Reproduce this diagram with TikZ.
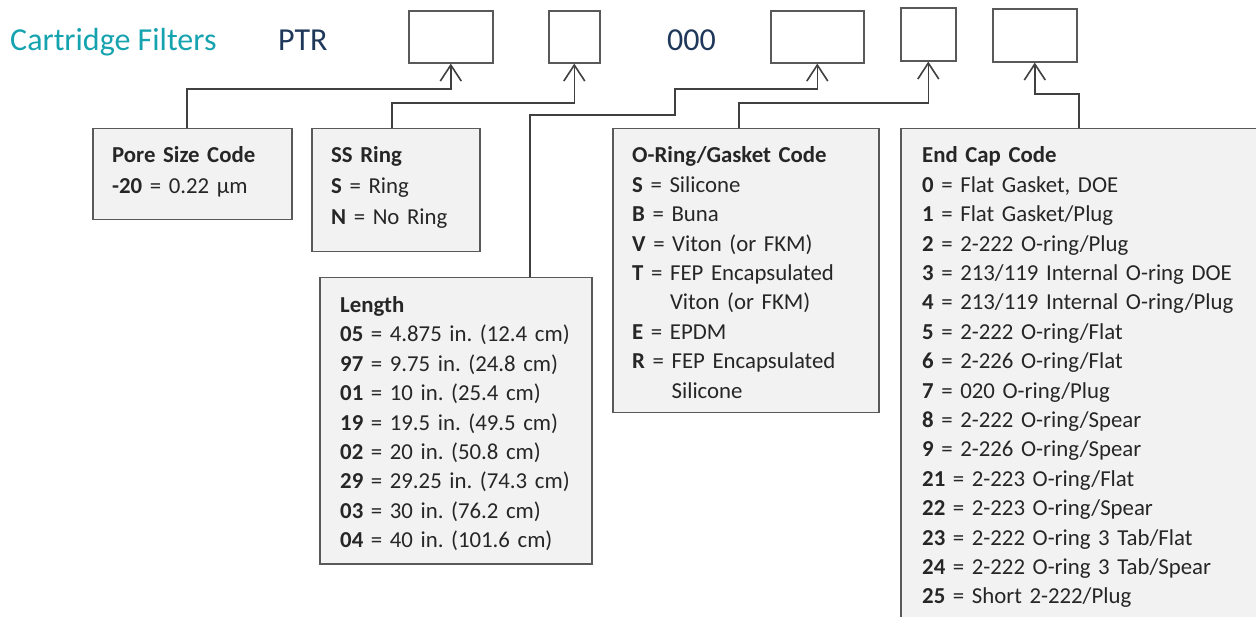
\documentclass[tikz,border=0pt]{standalone}
\usepackage{fontspec}
\setmainfont{Carlito}
\usetikzlibrary{arrows.meta}
\definecolor{teal1}{RGB}{22,163,176}
\definecolor{navy1}{RGB}{31,56,90}
\definecolor{boxfill}{RGB}{242,242,242}
\definecolor{boxline}{RGB}{89,89,89}
\definecolor{connline}{RGB}{64,64,64}
\definecolor{txt}{RGB}{38,38,38}
\frenchspacing
\begin{document}
\begin{tikzpicture}[x=1pt,y=-1pt,
  codebox/.style={draw=boxline, line width=1.6pt, fill=white, anchor=north west, inner sep=0pt},
  infobox/.style={draw=boxline, line width=1.5pt, fill=boxfill, anchor=north west, inner sep=0pt},
  conn/.style={draw=connline, line width=1.6pt, -{Straight Barb[length=16pt,width=21pt]}},
  body/.style={anchor=base west, inner sep=0pt, text width=360pt, align=left, font=\fontsize{22.8}{29.4}\selectfont, text=txt},
  bodywide/.style={body, font=\fontsize{22.8}{31}\selectfont},
  head/.style={anchor=base west, inner sep=0pt, font=\fontsize{32}{38}\selectfont}
]
\useasboundingbox (0,0) rectangle (1256,617);
\fill[white] (0,0) rectangle (1256,617);
\clip (0,0) rectangle (1256,617);

% header texts
\node[head, text=teal1] (title) at (10,51) {Cartridge Filters};
\node[head, text=navy1] (ptr) at (278,51) {PTR};
\node[head, text=navy1] (zeros) at (667,51) {000};

% code boxes
\node[codebox, minimum width=84pt, minimum height=52pt] (b1) at (408,10) {};
\node[codebox, minimum width=51pt, minimum height=52pt] (b2) at (548,10) {};
\node[codebox, minimum width=93pt, minimum height=52pt] (b3) at (770,10) {};
\node[codebox, minimum width=55pt, minimum height=53pt] (b4) at (900,7) {};
\node[codebox, minimum width=84pt, minimum height=53pt] (b5) at (992,8) {};

% info boxes
\node[infobox, minimum width=199pt, minimum height=91pt] (pore) at (92,128) {};
\node[infobox, minimum width=168pt, minimum height=123pt] (ss) at (311,128) {};
\node[infobox, minimum width=272pt, minimum height=286pt] (len) at (319,277) {};
\node[infobox, minimum width=266pt, minimum height=284pt] (oring) at (612,128) {};
\node[infobox, minimum width=380pt, minimum height=520pt] (endcap) at (900,128) {};

% texts
\node[bodywide] (poretxt) at ([xshift=20pt,yshift=-35pt]pore.north west)
  {\textbf{Pore Size Code}\\\textbf{-20} = 0.22 µm};
\node[bodywide] (sstxt) at ([xshift=20pt,yshift=-35pt]ss.north west)
  {\textbf{SS Ring}\\\textbf{S} = Ring\\\textbf{N} = No Ring};
\node[body] (lentxt) at ([xshift=21pt,yshift=-35.5pt]len.north west)
  {\textbf{Length}\\
   \textbf{05} = 4.875 in. (12.4 cm)\\
   \textbf{97} = 9.75 in. (24.8 cm)\\
   \textbf{01} = 10 in. (25.4 cm)\\
   \textbf{19} = 19.5 in. (49.5 cm)\\
   \textbf{02} = 20 in. (50.8 cm)\\
   \textbf{29} = 29.25 in. (74.3 cm)\\
   \textbf{03} = 30 in. (76.2 cm)\\
   \textbf{04} = 40 in. (101.6 cm)};
\node[body] (oringtxt) at ([xshift=20pt,yshift=-35pt]oring.north west)
  {\textbf{O-Ring/Gasket Code}\\
   \textbf{S} = Silicone\\
   \textbf{B} = Buna\\
   \textbf{V} = Viton (or FKM)\\
   \textbf{T} = FEP Encapsulated\\
   \phantom{\textbf{T} = }Viton (or FKM)\\
   \textbf{E} = EPDM\\
   \textbf{R} = FEP Encapsulated\\
   \phantom{\textbf{R} = }Silicone};
\node[body] (endcaptxt) at ([xshift=22pt,yshift=-35pt]endcap.north west)
  {\textbf{End Cap Code}\\
   \textbf{0} = Flat Gasket, DOE\\
   \textbf{1} = Flat Gasket/Plug\\
   \textbf{2} = 2-222 O-ring/Plug\\
   \textbf{3} = 213/119 Internal O-ring DOE\\
   \textbf{4} = 213/119 Internal O-ring/Plug\\
   \textbf{5} = 2-222 O-ring/Flat\\
   \textbf{6} = 2-226 O-ring/Flat\\
   \textbf{7} = 020 O-ring/Plug\\
   \textbf{8} = 2-222 O-ring/Spear\\
   \textbf{9} = 2-226 O-ring/Spear\\
   \textbf{21} = 2-223 O-ring/Flat\\
   \textbf{22} = 2-223 O-ring/Spear\\
   \textbf{23} = 2-222 O-ring 3 Tab/Flat\\
   \textbf{24} = 2-222 O-ring 3 Tab/Spear\\
   \textbf{25} = Short 2-222/Plug};

% connector bends
\coordinate (c1) at (187,89);
\coordinate (c2) at (392,103);
\coordinate (c3a) at (530,115);
\coordinate (c3b) at (675,89);
\coordinate (c4) at (739,103);
\coordinate (c5) at (1079,94);

\draw[conn] (pore.north -| c1) -- (c1) -| (b1.south);
\draw[conn] (ss.north -| c2) -- (c2) -| (b2.south);
\draw[conn] (len.north -| c3a) -- (c3a) -| (c3b) -| (b3.south);
\draw[conn] (oring.north -| c4) -- (c4) -| (b4.south);
\draw[conn] (endcap.north -| c5) -- (c5) -| (b5.south);
\end{tikzpicture}
\end{document}
